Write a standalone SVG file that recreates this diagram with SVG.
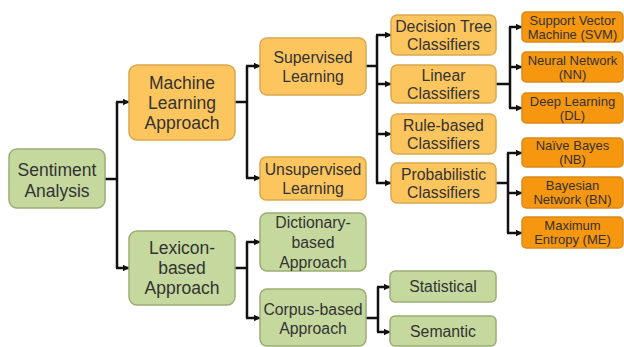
<svg xmlns="http://www.w3.org/2000/svg" width="624" height="347" viewBox="0 0 624 347">
<defs>
<marker id="ah" markerUnits="userSpaceOnUse" markerWidth="7" markerHeight="7" refX="6.5" refY="3.5" orient="auto">
<path d="M0,0 L7,3.5 L0,7 z" fill="#111"/>
</marker>
<style>
.g{fill:#c5d89e;stroke:#9aae74;stroke-width:1.5}
.o{fill:#fdc55e;stroke:#d9a84f;stroke-width:1.5}
.d{fill:#f7960f;stroke:#d98a1a;stroke-width:1.5}
text{font-family:"Liberation Sans",Arial,sans-serif;fill:#333;text-anchor:middle}
.t1{font-size:17.5px}
.t2{font-size:15.8px}
.t3{font-size:13px}
.c{fill:none;stroke:#111;stroke-width:2.5}
.a{fill:none;stroke:#111;stroke-width:2.5;marker-end:url(#ah)}
</style>
</defs>
<rect width="624" height="347" fill="#fff"/>
<g id="connectors">
<path class="c" d="M105,179 H117 M117,102 V268"/>
<path class="a" d="M116,102 H129"/>
<path class="a" d="M116,268 H129"/>
<path class="c" d="M235,102 H247 M247,66 V178"/>
<path class="a" d="M246,66 H260"/>
<path class="a" d="M246,178 H260"/>
<path class="c" d="M235,268 H247 M247,242 V318"/>
<path class="a" d="M246,242 H260"/>
<path class="a" d="M246,318 H260"/>
<path class="c" d="M366,318 H378 M378,287 V332"/>
<path class="a" d="M377,287 H390"/>
<path class="a" d="M377,332 H390"/>
<path class="c" d="M366,66 H377 M377,35 V183"/>
<path class="a" d="M376,35 H391"/>
<path class="a" d="M376,84 H391"/>
<path class="a" d="M376,134 H391"/>
<path class="a" d="M376,183 H391"/>
<path class="c" d="M496,84 H510 M510,27 V108"/>
<path class="a" d="M509,27 H522"/>
<path class="a" d="M509,67 H522"/>
<path class="a" d="M509,108 H522"/>
<path class="c" d="M496,183 H508 M508,153 V233"/>
<path class="a" d="M507,153 H522"/>
<path class="a" d="M507,193 H522"/>
<path class="a" d="M507,233 H522"/>
</g>
<g id="sentiment"><rect class="g" x="9" y="149" width="96" height="59" rx="8"/><text class="t1" x="57" y="176">Sentiment</text><text class="t1" x="57" y="197">Analysis</text></g>
<g id="ml"><rect class="o" x="129" y="65" width="106" height="75" rx="8"/><text class="t1" x="182" y="89">Machine</text><text class="t1" x="182" y="109">Learning</text><text class="t1" x="182" y="129">Approach</text></g>
<g id="lexicon"><rect class="g" x="129" y="231" width="106" height="74" rx="8"/><text class="t1" x="182" y="254">Lexicon-</text><text class="t1" x="182" y="274">based</text><text class="t1" x="182" y="294">Approach</text></g>
<g id="supervised"><rect class="o" x="260" y="38" width="106" height="57" rx="7"/><text class="t2" x="313" y="63">Supervised</text><text class="t2" x="313" y="82">Learning</text></g>
<g id="unsupervised"><rect class="o" x="260" y="157" width="106" height="43" rx="6"/><text class="t2" x="313" y="175">Unsupervised</text><text class="t2" x="313" y="194">Learning</text></g>
<g id="dictionary"><rect class="g" x="260" y="213" width="106" height="58" rx="7"/><text class="t2" x="313" y="228">Dictionary-</text><text class="t2" x="313" y="248">based</text><text class="t2" x="313" y="268">Approach</text></g>
<g id="corpus"><rect class="g" x="260" y="289" width="106" height="57" rx="7"/><text class="t2" x="313" y="315">Corpus-based</text><text class="t2" x="313" y="334">Approach</text></g>
<g id="statistical"><rect class="g" x="390" y="271" width="106" height="31" rx="5"/><text class="t2" x="443" y="292">Statistical</text></g>
<g id="semantic"><rect class="g" x="390" y="316" width="106" height="30" rx="5"/><text class="t2" x="443" y="337">Semantic</text></g>
<g id="decisiontree"><rect class="o" x="391" y="15" width="105" height="40" rx="6"/><text class="t2" x="443.5" y="32">Decision Tree</text><text class="t2" x="443.5" y="50">Classifiers</text></g>
<g id="linear"><rect class="o" x="391" y="65" width="105" height="38" rx="6"/><text class="t2" x="443.5" y="81">Linear</text><text class="t2" x="443.5" y="99">Classifiers</text></g>
<g id="rulebased"><rect class="o" x="391" y="114" width="105" height="40" rx="6"/><text class="t2" x="443.5" y="131">Rule-based</text><text class="t2" x="443.5" y="149">Classifiers</text></g>
<g id="probabilistic"><rect class="o" x="391" y="163" width="105" height="40" rx="6"/><text class="t2" x="443.5" y="180">Probabilistic</text><text class="t2" x="443.5" y="198">Classifiers</text></g>
<g id="svm"><rect class="d" x="522" y="12" width="101" height="30" rx="4"/><text class="t3" x="572.5" y="24.5">Support Vector</text><text class="t3" x="572.5" y="38.5">Machine (SVM)</text></g>
<g id="nn"><rect class="d" x="522" y="52" width="101" height="30" rx="4"/><text class="t3" x="572.5" y="64.5">Neural Network</text><text class="t3" x="572.5" y="78.5">(NN)</text></g>
<g id="dl"><rect class="d" x="522" y="93" width="101" height="30" rx="4"/><text class="t3" x="572.5" y="105.5">Deep Learning</text><text class="t3" x="572.5" y="119.5">(DL)</text></g>
<g id="nb"><rect class="d" x="522" y="138" width="101" height="29" rx="4"/><text class="t3" x="572.5" y="150">Naïve Bayes</text><text class="t3" x="572.5" y="164">(NB)</text></g>
<g id="bn"><rect class="d" x="522" y="177" width="101" height="31" rx="4"/><text class="t3" x="572.5" y="190">Bayesian</text><text class="t3" x="572.5" y="204">Network (BN)</text></g>
<g id="me"><rect class="d" x="522" y="217" width="101" height="31" rx="4"/><text class="t3" x="572.5" y="230">Maximum</text><text class="t3" x="572.5" y="244">Entropy (ME)</text></g>
</svg>
